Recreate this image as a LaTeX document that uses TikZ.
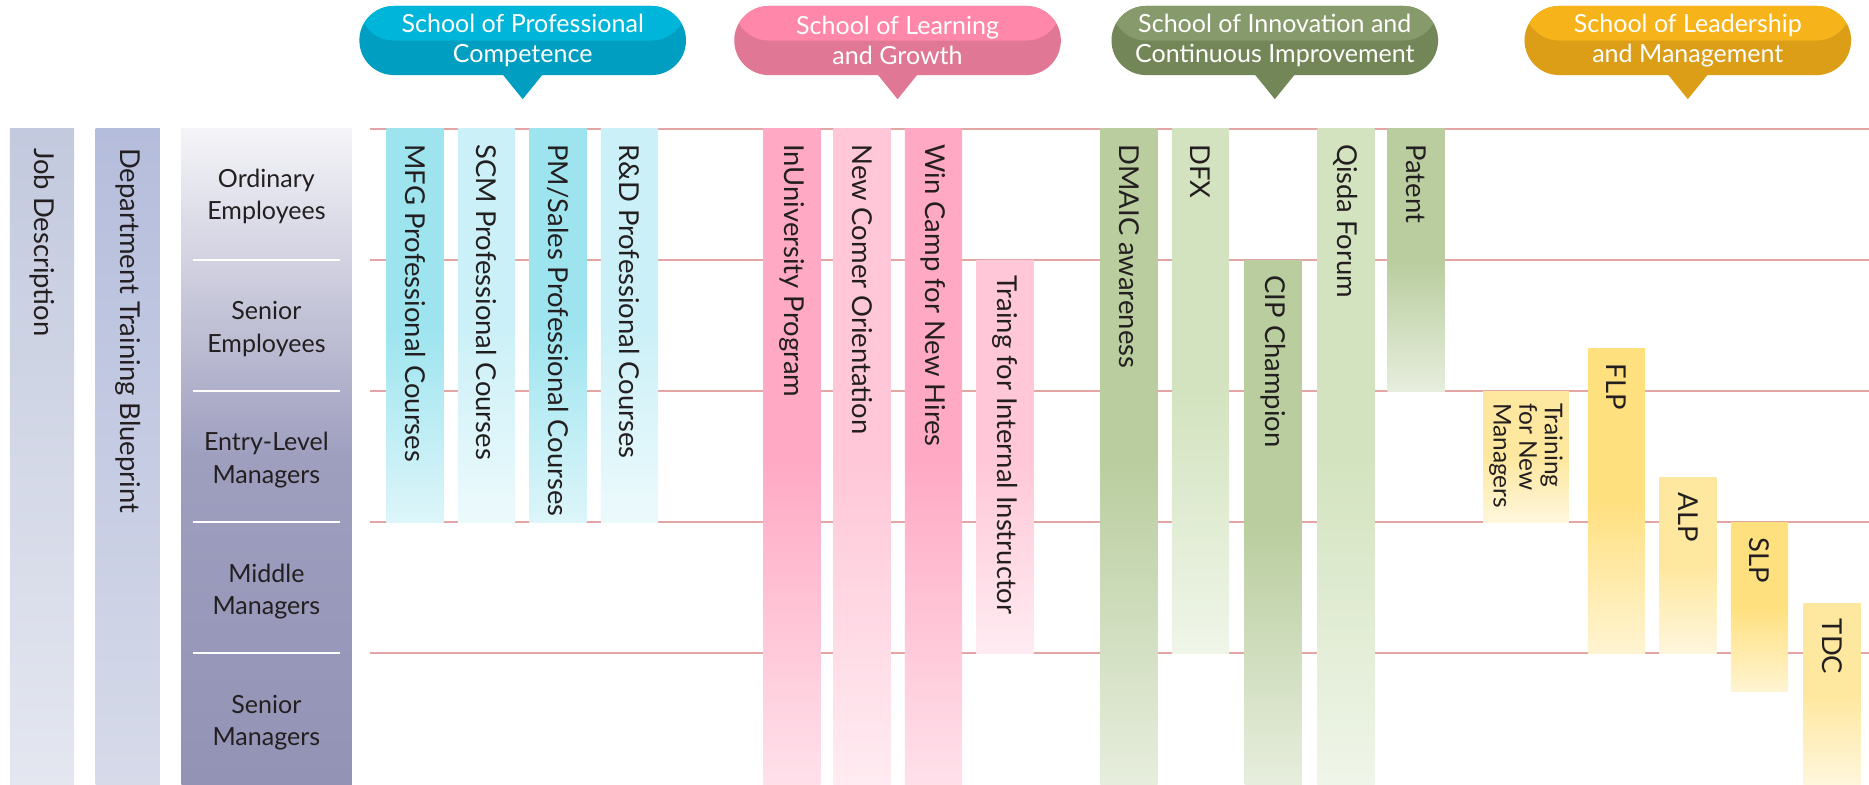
\documentclass[tikz,border=0pt]{standalone}
\usepackage{fontspec}
\setmainfont{Lato}
\usetikzlibrary{positioning}

\definecolor{txt}{HTML}{231F20}
\definecolor{rowred}{HTML}{E4A5A5}
\definecolor{jobtop}{HTML}{C3C9DE}
\definecolor{jobbot}{HTML}{E4E7F0}
\definecolor{deptop}{HTML}{B5BDDC}
\definecolor{depbot}{HTML}{D6DAE9}
\definecolor{levtop}{HTML}{F4F4F8}
\definecolor{levmid}{HTML}{9E9EBF}
\definecolor{levbot}{HTML}{9393B6}
\definecolor{cyanD}{HTML}{9DE4EF}
\definecolor{cyanL}{HTML}{CBF0F7}
\definecolor{pinkD}{HTML}{FFA9C4}
\definecolor{pinkL}{HTML}{FFC7D8}
\definecolor{greenD}{HTML}{B9CD9E}
\definecolor{greenL}{HTML}{D3E3BF}
\definecolor{yellowD}{HTML}{FFE07F}
\definecolor{yellowL}{HTML}{FEE79E}
\definecolor{spcTop}{HTML}{00B5DA}
\definecolor{spcBot}{HTML}{009EC0}
\definecolor{slgTop}{HTML}{FF87A9}
\definecolor{slgBot}{HTML}{E07795}
\definecolor{sicTop}{HTML}{879A6B}
\definecolor{sicBot}{HTML}{738657}
\definecolor{slmTop}{HTML}{F6B31A}
\definecolor{slmBot}{HTML}{DC9E16}

\tikzset{
  course/.style={rectangle, inner sep=0pt, top color=#1, bottom color=#1!35!white, middle color=#1},
  sidebar/.style={rectangle, inner sep=0pt, minimum width=54pt, minimum height=550pt},
  coltext/.style={rotate=-90, anchor=west, inner sep=0pt, align=left, text=txt,
    font=\fontsize{23}{27}\selectfont},
  levtext/.style={align=center, text=txt, font=\fontsize{21}{27}\selectfont},
  rowline/.style={draw=rowred, line width=1.4pt},
  bubble/.style n args={2}{rectangle, rounded corners=29pt, minimum width=274pt,
    minimum height=58pt, inner sep=0pt, fill=#2, text=white, align=center,
    font=\fontsize{21}{25}\selectfont,
    path picture={\fill[#1] (path picture bounding box.north west) rectangle (path picture bounding box.east);}}
}

% #1 breedte, #2 naam, #3 x, #4 y, #5 hoogte, #6 kleur, #7 tekst
\newcommand{\course}[7][48]{%
  \node[course=#6, minimum width=#1pt, minimum height=#5pt, anchor=north west] (#2) at (#3,#4) {};
  \node[coltext] (#2-t) at ([yshift=-13pt]#2.north) {#7};
}
% #1 naam, #2 x, #3 boven, #4 onder, #5 tekst
\newcommand{\school}[5]{%
  \node[bubble={#3}{#4}] (#1) at (#2,34) {#5};
  \fill[#4] ([xshift=-17pt,yshift=1pt]#1.south) -- ([yshift=-20pt]#1.south) -- ([xshift=17pt,yshift=1pt]#1.south) -- cycle;
}

\begin{document}
\begin{tikzpicture}[x=1pt,y=-1pt]
\useasboundingbox (0,0) rectangle (1568,658);

% Rijlijnen
\foreach \y in {108,218,328,438,548}
  \draw[rowline] (310,\y) -- (1568,\y);

% Linker kolommen
\node[sidebar, top color=jobtop, bottom color=jobbot, anchor=north west] (job) at (8,108) {};
\node[coltext] (job-t) at ([yshift=-16pt]job.north) {Job Description};
\node[sidebar, top color=deptop, bottom color=depbot, anchor=north west] (dept) at (80,108) {};
\node[coltext] (dept-t) at ([yshift=-16pt]dept.north) {Department Training Blueprint};

% Functieniveaus
\node[rectangle, inner sep=0pt, minimum width=143pt, minimum height=550pt,
  top color=levtop, bottom color=levbot, middle color=levmid, anchor=north west] (levels) at (152,108) {};
\foreach \y in {218,328,438,548}
  \draw[white, line width=1.6pt] (162,\y) -- (285,\y);
\node[levtext] (ordinary) at (223.5,165) {Ordinary\\Employees};
\node[levtext] (senioremp) at (223.5,276) {Senior\\Employees};
\node[levtext] (entry) at (223.5,386) {Entry-Level\\Managers};
\node[levtext] (middle) at (223.5,496) {Middle\\Managers};
\node[levtext] (seniormgr) at (223.5,606) {Senior\\Managers};

% Scholen
\school{spc}{438.5}{spcTop}{spcBot}{School of Professional\\Competence}
\school{slg}{753}{slgTop}{slgBot}{School of Learning\\and Growth}
\school{sic}{1069.5}{sicTop}{sicBot}{School of Innovation and\\Continuous Improvement}
\school{slm}{1416}{slmTop}{slmBot}{School of Leadership\\and Management}

% Professional Competence
\course{mfg}{324}{108}{330}{cyanD}{MFG Professional Courses}
\course{scm}{384}{108}{330}{cyanL}{SCM Professional Courses}
\course{pms}{444}{108}{330}{cyanD}{PM/Sales Professional Courses}
\course{rnd}{504}{108}{330}{cyanL}{R\&D Professional Courses}

% Learning and Growth
\course{inu}{640}{108}{550}{pinkD}{InUniversity Program}
\course{newcomer}{699}{108}{550}{pinkL}{New Comer Orientation}
\course{wincamp}{759}{108}{550}{pinkD}{Win Camp for New Hires}
\course{instructor}{819}{218}{330}{pinkL}{Traing for Internal Instructor}

% Innovation
\course{dmaic}{923}{108}{550}{greenD}{DMAIC awareness}
\course{dfx}{983}{108}{440}{greenL}{DFX}
\course{cip}{1044}{218}{440}{greenD}{CIP Champion}
\course{qisda}{1105}{108}{550}{greenL}{Qisda Forum}
\course{patent}{1164}{108}{220}{greenD}{Patent}

% Leadership
\node[course=yellowL, minimum width=72pt, minimum height=110pt, anchor=north west] (newmgr) at (1244,328) {};
\node[coltext, font=\fontsize{20.5}{21.5}\selectfont] (newmgr-t) at ([yshift=-10pt]newmgr.north) {Training\\for New\\Managers};
\course{flp}{1332}{292}{256}{yellowD}{FLP}
\course{alp}{1392}{400}{148}{yellowL}{ALP}
\course{slp}{1452}{438}{142}{yellowD}{SLP}
\course{tdc}{1513}{506}{152}{yellowL}{TDC}
\end{tikzpicture}
\end{document}
